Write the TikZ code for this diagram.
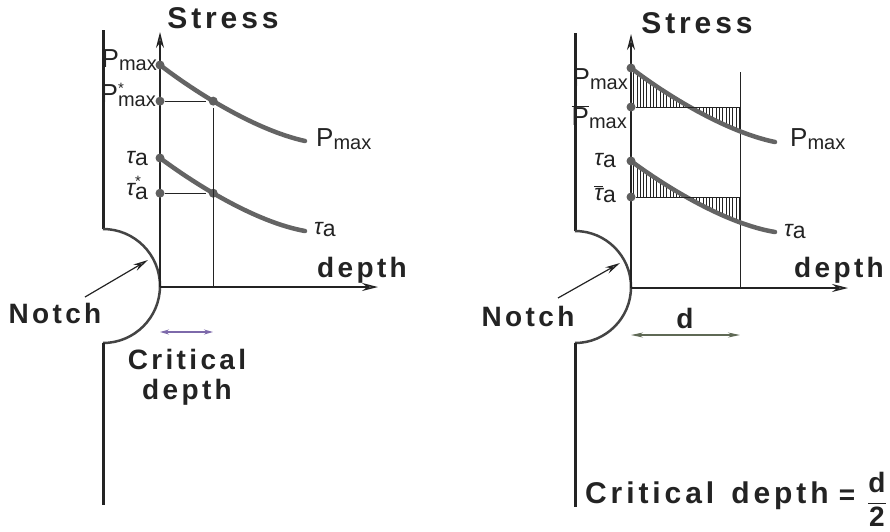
\documentclass[tikz,border=0pt]{standalone}
\usepackage{fontspec}
\setmainfont{Liberation Sans}
\usetikzlibrary{arrows.meta,patterns.meta}
\definecolor{ink}{RGB}{35,35,35}
\definecolor{curvecol}{RGB}{100,100,100}
\definecolor{dotcol}{RGB}{95,95,95}
\definecolor{crit}{RGB}{125,105,170}
\definecolor{dcol}{RGB}{95,105,85}

\newcommand{\bigP}{\fontsize{26}{26}\selectfont P}
\newcommand{\smallmax}{\fontsize{20}{20}\selectfont max}
\newcommand{\smallstar}{\fontsize{15}{15}\selectfont *}
\newcommand{\tauq}{{\itshape τ}}

\begin{document}
\begin{tikzpicture}[x=1pt,y=-1pt,
   lbl/.style={font=\fontsize{28}{30}\selectfont\bfseries\addfontfeature{LetterSpace=12},text=ink,inner sep=0pt},
   biglbl/.style={font=\fontsize{30}{32}\selectfont\bfseries\addfontfeature{LetterSpace=13},text=ink,inner sep=0pt},
   sym/.style={font=\fontsize{23}{25}\selectfont,text=ink,inner sep=0pt},
   dot/.style={circle,fill=dotcol,inner sep=0pt,minimum size=9pt},
   curve/.style={line width=4.5pt,curvecol,line cap=round},
   axisline/.style={line width=1.4pt,ink,-{Stealth[length=16pt,width=8pt,fill=gray]}},
   wall/.style={line width=3pt,ink},
   notch/.style={line width=2.5pt,ink!85},
   guide/.style={line width=1pt,ink}]
  \useasboundingbox (0,0) rectangle (890,531);

  % ---- left: critical depth read off the curves ----
  \coordinate (lo) at (160,287);
  \coordinate (lyt) at (160,32);
  \coordinate (lxt) at (378,287);
  \draw[wall] (103,30) -- (103,229);
  \draw[notch] (103,229) arc[start angle=-90,end angle=90,radius=57];
  \draw[wall] (103,343) -- (103,505);
  \draw[axisline] (lo) -- (lyt);
  \draw[axisline] (lo) -- (lxt);
  \node[biglbl] (lst) at (223,18) {Stress};
  \node[lbl] (ldp) at (362,270) {depth};

  \draw[curve] (160,65) node[dot] (lp0) {}
     .. controls (195,92) and (255,130) .. (305,141)
     node[dot,pos=0.41] (lpc) {};
  \draw[curve] (160,158) node[dot] (lt0) {}
     .. controls (195,184) and (255,222) .. (305,231)
     node[dot,pos=0.41] (ltc) {};
  \node[dot] (lps) at (lpc -| lo) {};
  \node[dot] (lts) at (ltc -| lo) {};
  \draw[guide] (lps) -- (lpc);
  \draw[guide] (lts) -- (ltc);
  \draw[guide] (lpc) -- (lpc |- lo);

  \node[sym,anchor=base east] (lpl) at (157,67) {\bigP\raisebox{-3pt}{\smallmax}};
  \node[sym,anchor=base east] (lpsl) at (156,102) {\bigP\rlap{\raisebox{9pt}{\smallstar}}\raisebox{-4pt}{\smallmax}};
  \node[sym,anchor=base east] (ltl) at (148,163) {\tauq\raisebox{-2pt}{a}};
  \node[sym,anchor=base east] (ltsl) at (148,195) {\tauq\rlap{\raisebox{9pt}{\smallstar}}\raisebox{-4pt}{a}};
  \node[sym,anchor=base west] (lpr) at (316,146) {\bigP\raisebox{-3pt}{\smallmax}};
  \node[sym,anchor=base west] (ltr) at (314,234) {\tauq\raisebox{-2pt}{a}};

  \coordinate (lna) at (85,297);
  \coordinate (lnb) at (148,260);
  \draw[line width=1.2pt,ink,-{Stealth[length=15pt,width=7pt,fill=gray]}] (lna) -- (lnb);
  \node[lbl] (lnt) at (55,313) {Notch};
  \coordinate (lca) at (160,332);
  \coordinate (lcb) at (213,332);
  \draw[line width=1.4pt,crit,{Stealth[length=9pt,width=5pt]}-{Stealth[length=9pt,width=5pt]}] (lca) -- (lcb);
  \node[lbl] (lcr1) at (187,359) {Critical};
  \node[lbl] (lcr2) at (187,392) {depth};

  % ---- right: averaged stress over d ----
  \coordinate (ro) at (631,288);
  \coordinate (ryt) at (631,34);
  \coordinate (rxt) at (848,288);
  \coordinate (rvt) at (740,72);
  \coordinate (rvb) at (740,288);
  \draw[wall] (575,33) -- (575,231);
  \draw[notch] (575,231) arc[start angle=-90,end angle=90,radius=56];
  \draw[wall] (575,343) -- (575,507);

  \begin{scope}
    \clip (631,40) rectangle (740,300);
    \fill[pattern={Lines[angle=90,distance=3.3pt,line width=0.8pt]},pattern color=ink]
      (631,68) .. controls (666,95) and (726,132) .. (775,142) -- (775,107) -- (631,107) -- cycle;
    \fill[pattern={Lines[angle=90,distance=3.3pt,line width=0.8pt]},pattern color=ink]
      (631,161) .. controls (666,187) and (726,224) .. (775,232) -- (775,197) -- (631,197) -- cycle;
  \end{scope}

  \draw[axisline] (ro) -- (ryt);
  \draw[axisline] (ro) -- (rxt);
  \draw[guide] (rvb) -- (rvt);
  \node[biglbl] (rst) at (697,23) {Stress};
  \node[lbl] (rdp) at (839,270) {depth};

  \draw[curve] (631,68) node[dot] (rp0) {}
     .. controls (666,95) and (726,132) .. (775,142);
  \draw[curve] (631,161) node[dot] (rt0) {}
     .. controls (666,187) and (726,224) .. (775,232);
  \node[dot] (rps) at (631,107) {};
  \node[dot] (rts) at (631,197) {};
  \draw[guide] (rps) -- (rps -| rvt);
  \draw[guide] (rts) -- (rts -| rvt);

  \node[sym,anchor=base east] (rpl) at (628,86) {\bigP\raisebox{-3pt}{\smallmax}};
  \node[sym,anchor=base east] (rpbl) at (627,125) {$\overline{\hbox{\bigP}}$\raisebox{-3pt}{\smallmax}};
  \node[sym,anchor=base east] (rtl) at (616,165) {\tauq\raisebox{-2pt}{a}};
  \node[sym,anchor=base east] (rtbl) at (616,200) {$\overline{\hbox{\tauq}}$\raisebox{-2pt}{a}};
  \node[sym,anchor=base west] (rpr) at (790,146) {\bigP\raisebox{-3pt}{\smallmax}};
  \node[sym,anchor=base west] (rtr) at (784,236) {\tauq\raisebox{-2pt}{a}};

  \coordinate (rna) at (558,298);
  \coordinate (rnb) at (620,263);
  \draw[line width=1.2pt,ink,-{Stealth[length=15pt,width=7pt,fill=gray]}] (rna) -- (rnb);
  \node[lbl] (rnt) at (528,316) {Notch};
  \coordinate (rda) at (631,335);
  \coordinate (rdb) at (740,335);
  \draw[line width=1.4pt,dcol,{Stealth[length=12pt,width=5pt]}-{Stealth[length=12pt,width=5pt]}] (rda) -- (rdb);
  \node[lbl] (rdl) at (685,318) {d};

  \node[biglbl,anchor=base west] (rcf) at (585,503) {Critical\hspace{5pt} depth};
  \node[lbl] (req) at (847,497) {=};
  \node[lbl] (rfr) at (877,499) {$\displaystyle\frac{\mbox{d}}{\mbox{2}}$};
\end{tikzpicture}
\end{document}
